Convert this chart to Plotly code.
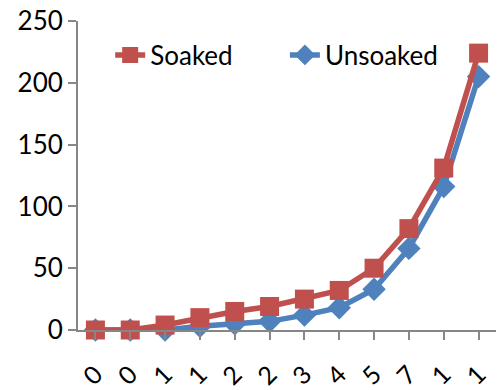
import plotly.graph_objects as go

categories = ["0", "0", "1", "1", "2", "2", "3", "4", "5", "7", "1", "1"]
soaked = [0, 0, 4, 10, 15, 19, 25, 32, 50, 82, 131, 224]
unsoaked = [0, 0, 0, 3, 5, 7, 12, 18, 33, 66, 116, 205]

x = list(range(len(categories)))
RED = "#C0504D"
BLUE = "#4F81BD"
FONT = "Lato"

fig = go.Figure()
fig.add_trace(go.Scatter(
    x=x, y=unsoaked, name="Unsoaked", mode="lines+markers",
    line=dict(color=BLUE, width=5.5),
    marker=dict(symbol="diamond", size=18, color=BLUE),
    cliponaxis=False, legend="legend2",
))
fig.add_trace(go.Scatter(
    x=x, y=soaked, name="Soaked", mode="lines+markers",
    line=dict(color=RED, width=5.5),
    marker=dict(symbol="square", size=19, color=RED),
    cliponaxis=False, legend="legend",
))

leg_common = dict(orientation="h", yanchor="middle", xanchor="left",
                  bgcolor="rgba(0,0,0,0)", font=dict(size=26, family=FONT),
                  tracegroupgap=0)

fig.update_layout(
    width=498, height=390,
    margin=dict(l=78, r=2, t=21, b=60, autoexpand=False),
    paper_bgcolor="white", plot_bgcolor="white",
    font=dict(family=FONT, size=26, color="black"),
    showlegend=True,
    legend=dict(x=0.077, y=0.89, **leg_common),
    legend2=dict(x=0.495, y=0.89, **leg_common),
    xaxis=dict(
        tickmode="array", tickvals=x, ticktext=categories,
        range=[-0.5, len(categories) - 0.5],
        showline=True, linecolor="#868686", linewidth=2,
        ticks="outside", ticklen=8, tickcolor="#868686", tickwidth=2,
        tickson="boundaries", tickangle=-45, showgrid=False, zeroline=False,
        tickfont=dict(size=25), automargin=False, ticklabeloverflow="allow",
        ticklabelstandoff=10,
    ),
    yaxis=dict(
        range=[0, 250], dtick=50, tick0=0,
        showline=True, linecolor="#868686", linewidth=2,
        ticks="outside", ticklen=8, tickcolor="#868686", tickwidth=2,
        showgrid=False, zeroline=False,
        tickfont=dict(size=26), automargin=False, ticklabeloverflow="allow",
    ),
)

fig.write_html("out.html",
               config={"displayModeBar": False},
               post_script="document.body.style.margin='0px';document.body.style.overflow='hidden';")
